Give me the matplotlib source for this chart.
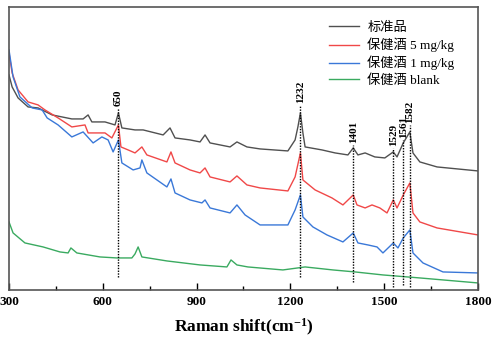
import numpy as np
import matplotlib.pyplot as plt
from matplotlib.ticker import MultipleLocator

plt.rcParams['font.family'] = ['Liberation Serif', 'Noto Sans CJK SC']
plt.rcParams['mathtext.fontset'] = 'custom'
plt.rcParams['mathtext.rm'] = 'Liberation Serif:bold'
plt.rcParams['mathtext.it'] = 'Liberation Serif:bold'

# Raman shift (cm-1) / intensity (a.u.)
std_x = [300, 310, 329, 361, 393, 438, 501, 537, 553, 565, 607, 639, 650, 661, 703, 729, 793,
         815, 831, 879, 911, 927, 943, 1007, 1029, 1061, 1103, 1192, 1215, 1224, 1232, 1240,
         1247, 1301, 1343, 1384, 1401, 1416, 1439, 1470, 1502, 1529, 1541, 1561, 1582, 1592,
         1614, 1669, 1800]
std_y = [215, 203, 192, 183, 182, 175, 171, 171, 175, 168, 168, 165, 177, 162, 160, 160, 155,
         162, 152, 150, 148, 155, 147, 143, 148, 143, 141, 139, 150, 163, 177, 157,
         143, 140, 137, 135, 142, 135, 137, 133, 132, 138, 133, 147, 158, 137,
         128, 123, 119]

s5_x = [300, 310, 329, 361, 393, 415, 457, 501, 543, 553, 607, 629, 650, 658, 681, 703, 725,
        741, 805, 818, 831, 879, 911, 927, 943, 1007, 1029, 1061, 1103, 1192, 1215, 1232,
        1240, 1279, 1333, 1368, 1401, 1413, 1439, 1461, 1486, 1509, 1529, 1541, 1561, 1582,
        1592, 1614, 1669, 1800]
s5_y = [237, 217, 200, 188, 185, 180, 172, 163, 165, 157, 157, 152, 165, 143, 140, 137, 143,
        135, 128, 138, 127, 120, 117, 122, 113, 108, 114, 105, 102, 99, 113, 137,
        110, 100, 92, 85, 95, 85, 82, 85, 82, 77, 90, 82, 95, 107,
        77, 68, 62, 55]

s1_x = [300, 313, 335, 374, 406, 422, 457, 501, 537, 569, 597, 617, 633, 650, 661, 697, 719,
        725, 741, 805, 818, 831, 879, 917, 927, 943, 1007, 1029, 1055, 1103, 1192, 1215, 1232,
        1240, 1272, 1317, 1368, 1401, 1416, 1448, 1477, 1496, 1529, 1544, 1561, 1582, 1592,
        1624, 1688, 1800]
s1_y = [240, 213, 193, 182, 180, 172, 165, 153, 158, 147, 153, 150, 138, 150, 127, 120, 122,
        130, 117, 103, 111, 97, 90, 87, 90, 82, 77, 85, 75, 65, 65, 80, 95,
        73, 63, 55, 48, 57, 47, 45, 43, 37, 47, 42, 52, 60, 37,
        27, 18, 17]

blank_x = [300, 313, 351, 409, 463, 489, 498, 517, 591, 645, 693, 703, 713, 725, 805, 911,
           997, 1010, 1029, 1064, 1176, 1247, 1336, 1407, 1496, 1614, 1800]
blank_y = [68, 57, 47, 43, 38, 37, 42, 37, 33, 32, 32, 36, 43, 33, 29, 25,
           23, 30, 25, 23, 20, 23, 20, 18, 15, 12, 7]

peaks = [650, 1232, 1401, 1529, 1561, 1582]
peak_top = [182, 185, 145, 142, 150, 165]
peak_bottom = [13, 13, 8, 3, 5, 3]

fig = plt.figure(figsize=(5, 3.46), dpi=100)
ax = fig.add_axes([0.018, 0.162, 0.938, 0.818])

ax.plot(std_x, std_y, color='#505050', lw=1, label='标准品')
ax.plot(s5_x, s5_y, color='#f04848', lw=1, label='保健酒 5 mg/kg')
ax.plot(s1_x, s1_y, color='#3a78d8', lw=1, label='保健酒 1 mg/kg')
ax.plot(blank_x, blank_y, color='#3aaa60', lw=1, label='保健酒 blank')

for p, top, bot in zip(peaks, peak_top, peak_bottom):
    ax.plot([p, p], [bot, top], color='black', lw=1, ls=(0, (1, 1)))
    ax.text(p, top + 2, str(p), rotation=90, ha='center', va='bottom',
            fontsize=8, fontweight='bold')

ax.set_xlim(300, 1800)
ax.set_ylim(0, 283)
ax.set_yticks([])
ax.xaxis.set_major_locator(MultipleLocator(300))
ax.xaxis.set_minor_locator(MultipleLocator(150))
ax.tick_params(axis='x', which='major', direction='in', length=5, width=1, labelsize=9.5, pad=4)
ax.tick_params(axis='x', which='minor', direction='in', length=3, width=1)
for lab in ax.get_xticklabels():
    lab.set_fontweight('bold')
for sp in ax.spines.values():
    sp.set_color('#555555')
    sp.set_linewidth(1.2)

ax.set_xlabel('Raman shift(cm$^{-1}$)', fontsize=12.5, fontweight='bold', labelpad=7)

ax.legend(loc='upper right', bbox_to_anchor=(0.975, 0.99), frameon=False, fontsize=9.5,
          handlelength=2.3, labelspacing=0.28, handletextpad=0.6)

plt.savefig('out.png', dpi=100)
